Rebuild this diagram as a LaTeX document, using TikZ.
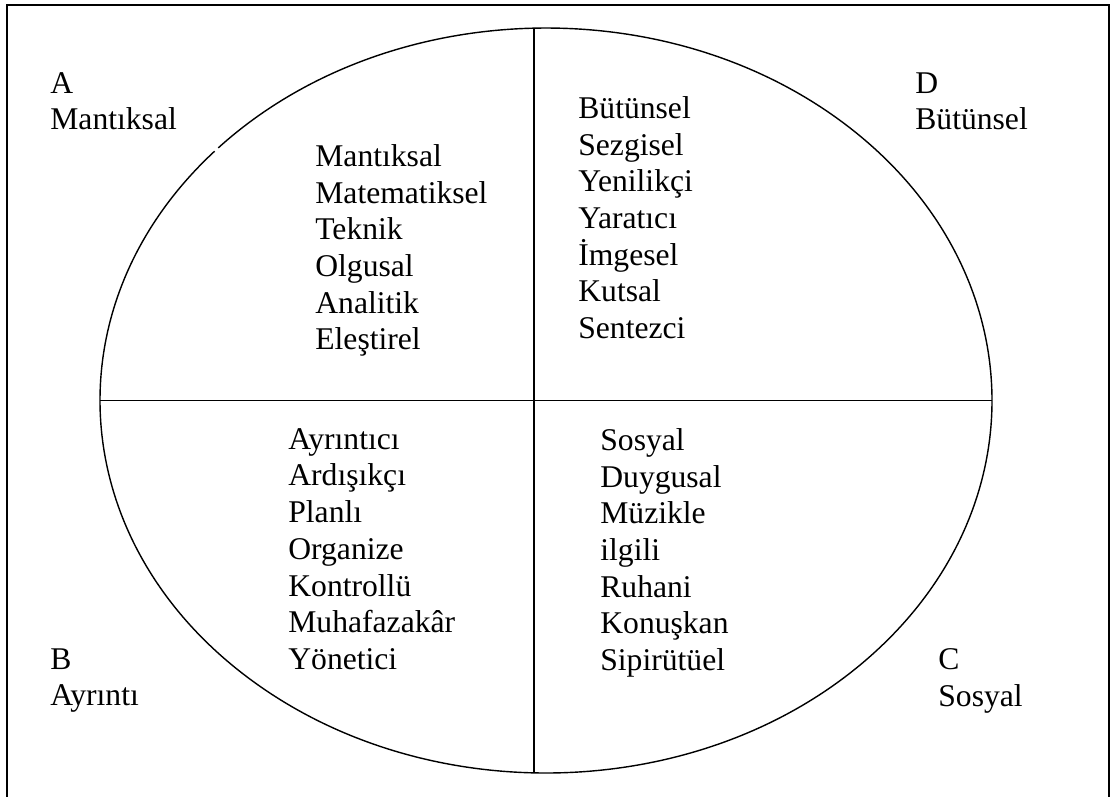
\documentclass[tikz,border=0pt]{standalone}
\usepackage{fontspec}
\setmainfont{Liberation Serif}
\def \cx{546}
\def \cy{395.5}

\begin{document}
\begin{tikzpicture}[x=0.02cm, y=0.02cm,
    every node/.style={align=left, inner sep=0pt, anchor=north west,
      font=\fontsize{18}{20.9}\selectfont}]
    \useasboundingbox (0,0) rectangle (1112,796);
    \clip (0,0) rectangle (1112,796);
    \draw[line width=1.1pt] (7,-20) rectangle (1109,791);
    % ellipse, with the small break at the upper left
    \draw[line width=0.8pt] ([shift={(138:446 and 372.5)}]\cx,\cy)
      arc[start angle=138, end angle=497.3, x radius=446, y radius=372.5];
    \coordinate (top) at (534, 767.9);
    \coordinate (bot) at (534, 23.1);
    \coordinate (lft) at (100, \cy);
    \coordinate (rgt) at (992, \cy);
    \draw[line width=0.8pt] (top) -- (bot);
    \draw[line width=0.8pt] (lft) -- (rgt);
    % corner labels
    \node (A) at (50, 724) {A\\Mantıksal};
    \node (D) at (915, 724) {D\\Bütünsel};
    \node (B) at (50, 148) {B\\Ayrıntı};
    \node (C) at (938, 148) {C\\Sosyal};
    % quadrant lists
    \node (Alist) at (315, 652) {Mantıksal\\Matematiksel\\Teknik\\Olgusal\\Analitik\\Eleştirel};
    \node (Dlist) at (578, 700) {Bütünsel\\Sezgisel\\Yenilikçi\\Yaratıcı\\İmgesel\\Kutsal\\Sentezci};
    \node (Blist) at (288, 368) {Ayrıntıcı\\Ardışıkçı\\Planlı\\Organize\\Kontrollü\\Muhafazakâr\\Yönetici};
    \node (Clist) at (600, 368) {Sosyal\\Duygusal\\Müzikle\\ilgili\\Ruhani\\Konuşkan\\Sipirütüel};
  \end{tikzpicture}
\end{document}
